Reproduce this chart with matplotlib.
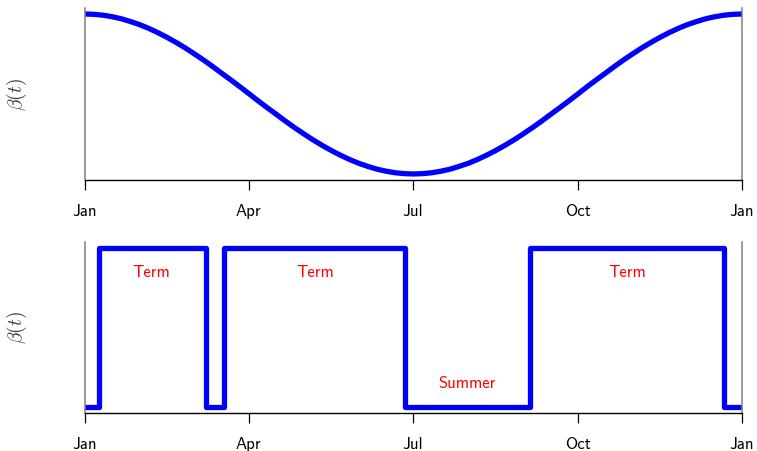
import matplotlib
matplotlib.use("Agg")
import matplotlib.pyplot as plt

# seasonal forcing, day of year -> beta
SEASON_DAYS = [0, 5.1, 10.1, 15.2, 20.3, 25.3, 30.4, 35.5, 40.6, 45.6, 50.7,
               55.8, 60.8, 65.9, 71.0, 76.0, 81.1, 86.2, 91.3, 96.3, 101.4,
               106.5, 111.5, 116.6, 121.7, 126.7, 131.8, 136.9, 141.9, 147.0,
               152.1, 157.1, 162.2, 167.3, 172.4, 177.4, 182.5,
               187.6, 192.6, 197.7, 202.8, 207.8, 212.9, 218.0, 223.1, 228.1,
               233.2, 238.3, 243.3, 248.4, 253.5, 258.5, 263.6, 268.7, 273.8,
               278.8, 283.9, 289.0, 294.0, 299.1, 304.2, 309.2, 314.3, 319.4,
               324.4, 329.5, 334.6, 339.7, 344.7, 349.8, 354.9, 359.9, 365.0]
SEASON_BETA = [0.965, 0.963, 0.958, 0.949, 0.937, 0.921, 0.903, 0.881, 0.856,
               0.829, 0.799, 0.767, 0.733, 0.697, 0.659, 0.620, 0.581, 0.541,
               0.500, 0.459, 0.419, 0.380, 0.341, 0.303, 0.267, 0.233, 0.201,
               0.171, 0.144, 0.119, 0.097, 0.079, 0.063, 0.051, 0.042, 0.037,
               0.035,
               0.037, 0.042, 0.051, 0.063, 0.079, 0.097, 0.119, 0.144, 0.171,
               0.201, 0.233, 0.267, 0.303, 0.341, 0.380, 0.419, 0.459, 0.500,
               0.541, 0.581, 0.620, 0.659, 0.697, 0.733, 0.767, 0.799, 0.829,
               0.856, 0.881, 0.903, 0.921, 0.937, 0.949, 0.958, 0.963, 0.965]

# term-time forcing: change points and the level that starts there
TERM_DAYS = [0, 7.5, 67, 77, 178, 247, 355, 365]
TERM_BETA = [0.035, 0.965, 0.035, 0.965, 0.035, 0.965, 0.035, 0.035]

TERM_LABELS = ["Term", "Term", "Summer", "Term"]
TERM_LABEL_AT = [(37, 0.82), (128, 0.82), (212, 0.17), (301, 0.82)]

MONTH_TICKS = [0, 91, 182, 274, 365]
MONTH_NAMES = ["Jan", "Apr", "Jul", "Oct", "Jan"]
GREY_TICKS = {0, 2, 4}

FONT = "cmss10"
BLUE = "#0000ff"
GREY = "#808080"


def style_axis(ax):
    ax.set_xlim(0, 365)
    ax.set_ylim(0, 1)
    ax.set_yticks([])
    ax.spines["top"].set_visible(False)
    for side in ("left", "right"):
        ax.spines[side].set_color(GREY)
        ax.spines[side].set_linewidth(1.1)
    ax.spines["bottom"].set_linewidth(1.0)
    ax.set_xticks(MONTH_TICKS)
    ax.set_xticklabels(MONTH_NAMES, fontfamily=FONT, fontsize=12)
    ax.tick_params(axis="x", length=7, width=0.9, pad=10)
    for i, tick in enumerate(ax.xaxis.get_major_ticks()):
        tick.tick1line.set_color(GREY if i in GREY_TICKS else "black")
    ax.set_ylabel(r"$\beta(t)$", fontsize=14, color="#3a3a3a", va="center")
    ax.yaxis.set_label_coords(-0.103, 0.5)


def main():
    plt.rcParams["mathtext.fontset"] = "cm"
    fig = plt.figure(figsize=(7.57, 4.51), dpi=100)
    ax1 = fig.add_axes([0.1123, 0.6009, 0.8679, 0.3814])
    ax2 = fig.add_axes([0.1123, 0.0843, 0.8679, 0.3792])

    ax1.plot(SEASON_DAYS, SEASON_BETA, color=BLUE, lw=3.8,
             solid_joinstyle="round")
    ax2.step(TERM_DAYS, TERM_BETA, where="post", color=BLUE, lw=3.8,
             solid_joinstyle="round")
    for label, (x, y) in zip(TERM_LABELS, TERM_LABEL_AT):
        ax2.text(x, y, label, color="red", fontfamily=FONT, fontsize=12,
                 ha="center", va="center")

    style_axis(ax1)
    style_axis(ax2)

    fig.savefig("out.png", dpi=100)
    plt.close(fig)


if __name__ == "__main__":
    main()
